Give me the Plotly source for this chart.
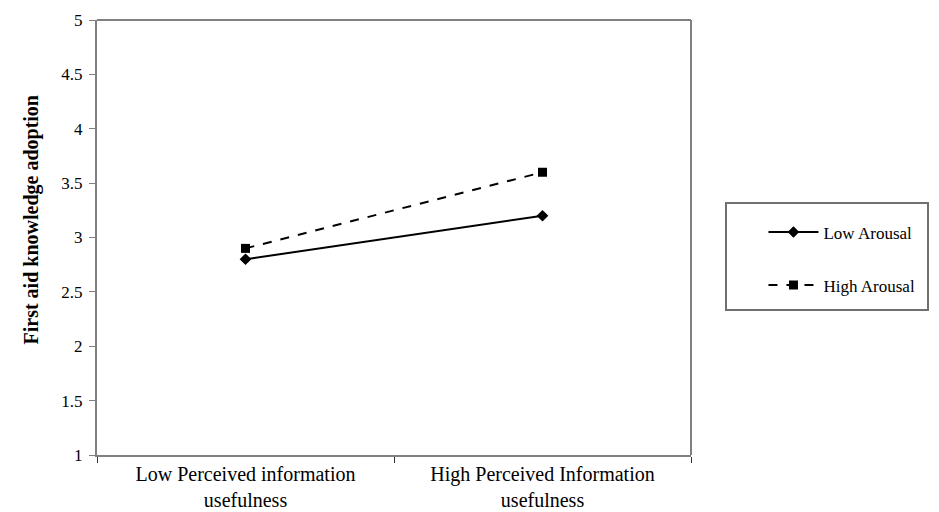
import plotly.graph_objects as go

categories = ["Low Perceived information<br>usefulness", "High Perceived Information<br>usefulness"]
low_arousal = [2.8, 3.2]
high_arousal = [2.9, 3.6]
y_ticks = [1, 1.5, 2, 2.5, 3, 3.5, 4, 4.5, 5]

FONT = "Liberation Serif, Times New Roman, serif"
AXC = "#808080"

# page body has an 8px margin; figure is sized so plot area lands where the reference has it
PAGE_OFF = 8
PL, PR, PT, PB = 97, 691, 20, 455  # plot area in page pixels
W, H = 939 - PAGE_OFF, 512 - PAGE_OFF
PW, PH = PR - PL, PB - PT


def px(xp):
    return (xp - PL) / PW


def py(yp):
    return (PB - yp) / PH


fig = go.Figure()
fig.add_trace(go.Scatter(
    x=categories, y=low_arousal, name="Low Arousal", mode="lines+markers",
    line=dict(color="black", width=2, dash="solid"),
    marker=dict(symbol="diamond", size=9, color="black"),
    legendgroup="a",
))
fig.add_trace(go.Scatter(
    x=categories, y=high_arousal, name="High Arousal", mode="lines+markers",
    line=dict(color="black", width=2, dash="dash"),
    marker=dict(symbol="square", size=9, color="black"),
    legendgroup="b",
))

fig.update_layout(
    width=W, height=H,
    margin=dict(l=PL - PAGE_OFF, r=W - (PR - PAGE_OFF), t=PT - PAGE_OFF,
                b=H - (PB - PAGE_OFF)),
    paper_bgcolor="white", plot_bgcolor="white",
    font=dict(family=FONT, size=16, color="black"),
    showlegend=True,
    legend=dict(
        x=1.122, y=0.553, xanchor="left", yanchor="top",
        bgcolor="rgba(0,0,0,0)", borderwidth=0,
        font=dict(family=FONT, size=17, color="black"),
        traceorder="grouped", tracegroupgap=28,
        itemwidth=50,
    ),
)
fig.update_xaxes(
    type="category", showline=True, linecolor=AXC, linewidth=2, automargin=False,
    mirror=False, showgrid=False, ticks="outside", tickson="boundaries",
    ticklen=6, tickcolor="#333333", tickwidth=1,
    tickfont=dict(family=FONT, size=20, color="black"),
    range=[-0.5, 1.5],
)
fig.update_yaxes(
    range=[1, 5], tickvals=y_ticks, ticktext=[str(v) for v in y_ticks],
    showline=True, linecolor=AXC, linewidth=2, showgrid=False, zeroline=False,
    automargin=False,
    ticks="outside", ticklen=6, tickcolor=AXC, tickwidth=1, ticklabelstandoff=3,
    tickfont=dict(family=FONT, size=17, color="black"),
)
# y-axis title
fig.add_annotation(
    text="<b>First aid knowledge adoption</b>", xref="paper", yref="paper",
    x=px(17), y=py(220), textangle=-90, showarrow=False,
    font=dict(family=FONT, size=20, color="black"),
)
# top and right border of plot area
fig.add_shape(type="line", xref="paper", yref="paper", x0=0, x1=1, y0=1, y1=1,
              line=dict(color=AXC, width=2))
fig.add_shape(type="line", xref="paper", yref="paper", x0=1, x1=1, y0=0, y1=1,
              line=dict(color=AXC, width=2))
# legend frame
fig.add_shape(type="rect", xref="paper", yref="paper",
              x0=px(726), x1=px(928), y0=py(310), y1=py(203),
              line=dict(color="#707070", width=2))

fig.write_html("out.html")
